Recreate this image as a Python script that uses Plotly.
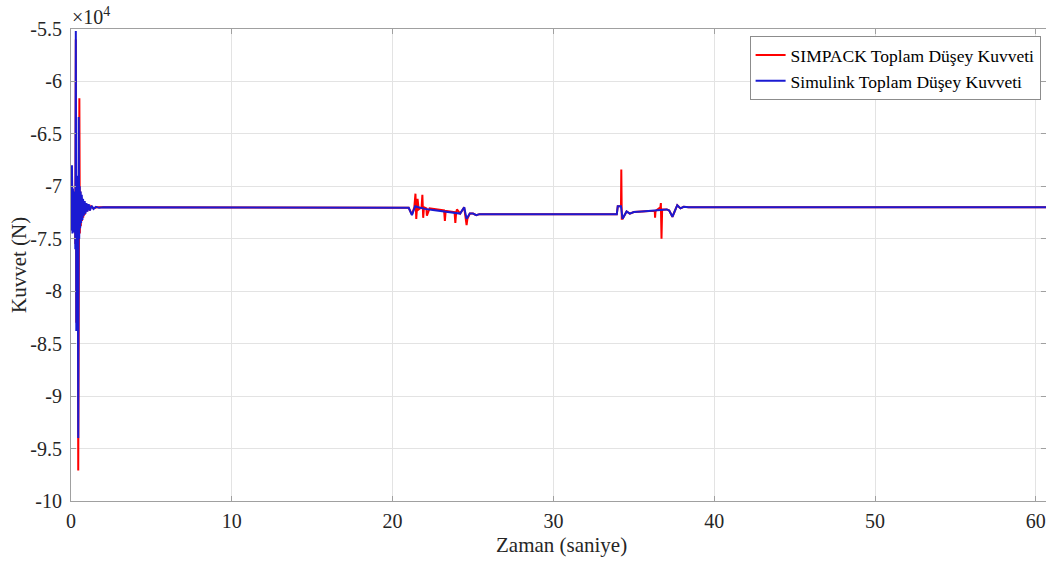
import plotly.graph_objects as go

# Time (s) and force values (in units of 1e4 N, as shown by the axis with the x10^4 multiplier)
t_simpack = [0.00, 0.03, 0.06, 0.09, 0.12, 0.15, 0.18, 0.21, 0.24, 0.27, 0.30, 0.33, 0.36, 0.39, 0.42,
             0.45, 0.48, 0.52, 0.55, 0.58, 0.61, 0.64, 0.68, 0.72, 0.76, 0.81, 0.86, 0.92, 0.98, 1.05,
             1.15, 1.25, 1.40, 1.60, 2.00,
             21.0, 21.2, 21.35, 21.42, 21.47, 21.55, 21.62, 21.8, 21.85, 21.9, 21.95, 22.1, 22.13, 22.3,
             23.2, 23.25, 23.3, 23.85, 23.9, 23.95, 24.0, 24.2, 24.45, 24.6, 24.65, 24.8, 25.0, 25.2, 25.4,
             26.0, 30.0, 33.94, 34.0, 34.2, 34.22, 34.25, 34.3, 34.55, 34.75, 35.0, 36.0, 36.3, 36.32,
             36.35, 36.65, 36.68, 36.72, 36.76, 37.05, 37.2, 37.4, 37.7, 37.9, 38.1, 38.4, 39.0, 45.0, 60.63]
v_simpack = [-7.20, -7.40, -6.85, -7.42, -7.05, -7.38, -7.10, -7.42, -7.06, -7.55, -5.60, -8.30, -7.15, -7.75, -6.95,
             -9.71, -6.40, -6.16, -7.45, -7.05, -7.38, -7.10, -7.33, -7.12, -7.30, -7.14, -7.27, -7.16, -7.24, -7.17,
             -7.23, -7.19, -7.21, -7.20, -7.20,
             -7.205, -7.27, -7.20, -7.07, -7.31, -7.12, -7.22, -7.20, -7.08, -7.30, -7.20, -7.21, -7.28, -7.21,
             -7.23, -7.33, -7.235, -7.245, -7.35, -7.25, -7.22, -7.26, -7.20, -7.37, -7.31, -7.26, -7.26, -7.275, -7.265,
             -7.265, -7.265, -7.265, -7.19, -7.19, -6.84, -7.31, -7.31, -7.24, -7.26, -7.245, -7.235, -7.235, -7.30,
             -7.235, -7.20, -7.16, -7.50, -7.22, -7.22, -7.23, -7.29, -7.18, -7.21, -7.195, -7.20, -7.20, -7.20, -7.20]

t_simulink = [0.00, 0.03, 0.06, 0.09, 0.12, 0.15, 0.18, 0.21, 0.24, 0.27, 0.30, 0.33, 0.36, 0.39, 0.42,
              0.45, 0.48, 0.51, 0.54, 0.57, 0.60, 0.63, 0.67, 0.71, 0.75, 0.80, 0.85, 0.90, 0.96, 1.02,
              1.10, 1.18, 1.28, 1.40, 1.55, 1.75, 2.00,
              21.0, 21.2, 21.4, 21.6, 22.0, 22.5, 23.0, 23.5, 24.0, 24.2, 24.45, 24.6, 24.8, 25.0, 25.2, 25.4,
              26.0, 30.0, 33.94, 34.0, 34.2, 34.3, 34.55, 34.75, 35.0, 35.5, 36.0, 36.5, 37.05, 37.2, 37.4,
              37.7, 37.9, 38.1, 38.4, 39.0, 45.0, 60.63]
v_simulink = [-7.20, -7.42, -6.80, -7.45, -7.02, -7.40, -7.08, -7.44, -7.05, -7.60, -5.52, -8.38, -7.10, -7.80, -6.90,
              -9.40, -6.34, -7.50, -7.00, -7.40, -7.05, -7.35, -7.08, -7.32, -7.12, -7.28, -7.14, -7.26, -7.16, -7.24,
              -7.17, -7.23, -7.185, -7.215, -7.195, -7.205, -7.20,
              -7.205, -7.275, -7.19, -7.20, -7.215, -7.225, -7.235, -7.245, -7.255, -7.26, -7.20, -7.31, -7.26, -7.26, -7.275, -7.265,
              -7.265, -7.265, -7.265, -7.19, -7.19, -7.31, -7.24, -7.26, -7.245, -7.24, -7.235, -7.23, -7.22, -7.23, -7.29,
              -7.18, -7.21, -7.195, -7.20, -7.20, -7.20, -7.20]

x_ticks = [0, 10, 20, 30, 40, 50, 60]
y_ticks = [-10, -9.5, -9, -8.5, -8, -7.5, -7, -6.5, -6, -5.5]
y_ticktext = ["-10", "-9.5", "-9", "-8.5", "-8", "-7.5", "-7", "-6.5", "-6", "-5.5"]

FONT = "Liberation Serif"
TXT = "#262626"

fig = go.Figure()
fig.add_trace(go.Scatter(x=t_simpack, y=v_simpack, mode="lines", name="SIMPACK Toplam Düşey Kuvveti",
                         line=dict(color="#ff0000", width=2)))
fig.add_trace(go.Scatter(x=t_simulink, y=v_simulink, mode="lines", name="Simulink Toplam Düşey Kuvveti",
                         line=dict(color="#1a1ad2", width=2)))

axis_common = dict(showgrid=True, gridcolor="#e3e3e3", gridwidth=1, zeroline=False,
                   showline=True, linecolor="#a0a0a0", linewidth=1, mirror="ticks",
                   ticks="inside", ticklen=5, tickcolor="#a0a0a0", automargin=False,
                   tickfont=dict(family=FONT, size=20, color=TXT))

fig.update_layout(
    width=1046, height=561,
    margin=dict(l=71, r=0, t=29, b=60),
    plot_bgcolor="white", paper_bgcolor="white",
    font=dict(family=FONT, color=TXT),
    xaxis=dict(range=[0, 60.63], tickvals=x_ticks, ticklabelstandoff=2, **axis_common),
    yaxis=dict(range=[-10, -5.5], tickvals=y_ticks, ticktext=y_ticktext, ticklabelstandoff=4, **axis_common),
    legend=dict(x=0.696, y=0.985, xanchor="left", yanchor="top",
                bgcolor="white", bordercolor="#8c8c8c", borderwidth=1,
                font=dict(family=FONT, size=17.5, color="black"), tracegroupgap=0),
    showlegend=True,
)

# axis titles and exponent label
fig.add_annotation(xref="paper", yref="paper", x=0.503, y=0, yanchor="top", yshift=-30,
                   text="Zaman (saniye)", showarrow=False,
                   font=dict(family=FONT, size=21, color=TXT))
fig.add_annotation(xref="paper", yref="paper", x=0, y=0.50, xanchor="right", xshift=-38,
                   text="Kuvvet (N)", showarrow=False, textangle=-90,
                   font=dict(family=FONT, size=21, color=TXT))
fig.add_annotation(xref="paper", yref="paper", x=0, y=1, xanchor="left", yanchor="bottom",
                   text="×10<sup>4</sup>", showarrow=False, yshift=-1, xshift=-1,
                   font=dict(family=FONT, size=20, color=TXT))

fig.write_html("out.html", config={"displayModeBar": False},
               post_script="document.body.style.margin='0';document.body.style.overflow='hidden';")
